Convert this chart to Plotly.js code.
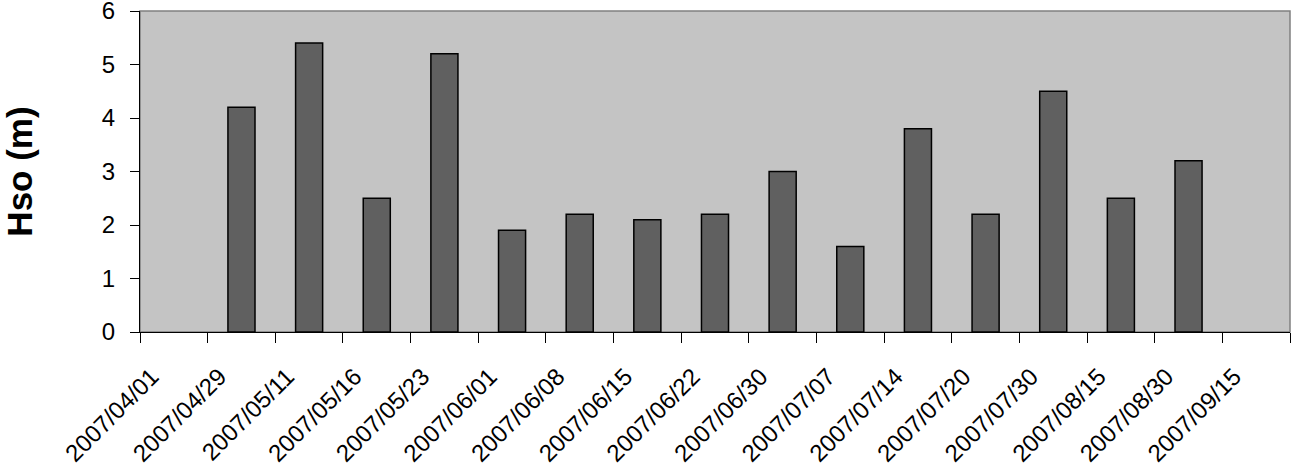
<!DOCTYPE html>
<html>
<head>
<meta charset="utf-8">
<script src="https://cdn.plot.ly/plotly-3.0.1.min.js"></script>
<style>
  html, body { margin: 0; padding: 0; background: #fff; }
  #chart { width: 1294px; height: 469px; }
</style>
</head>
<body>
<div id="chart"></div>
<script>
var dates = ['2007/04/01', '2007/04/29', '2007/05/11', '2007/05/16', '2007/05/23',
    '2007/06/01', '2007/06/08', '2007/06/15', '2007/06/22', '2007/06/30',
    '2007/07/07', '2007/07/14', '2007/07/20', '2007/07/30', '2007/08/15',
    '2007/08/30', '2007/09/15'];
var hso = [null, 4.2, 5.4, 2.5, 5.2, 1.9, 2.2, 2.1, 2.2, 3.0,
    1.6, 3.8, 2.2, 4.5, 2.5, 3.2, null];
var yTicks = [0, 1, 2, 3, 4, 5, 6];

var trace1 = {
    x: dates,
    y: hso,
    type: 'bar',
    width: 0.4,
    marker: {
        color: '#606060',
        line: { color: '#000000', width: 1.5 }
    },
    hoverinfo: 'x+y'
};

var layout = {
    width: 1294,
    height: 469,
    margin: { l: 140, r: 4, t: 11, b: 137 },
    paper_bgcolor: '#ffffff',
    plot_bgcolor: '#c4c4c4',
    font: { family: 'Liberation Sans, Arial, sans-serif', color: '#000000' },
    showlegend: false,
    xaxis: {
        type: 'category',
        range: [-0.5, 16.5],
        tickson: 'boundaries',
        ticks: 'outside',
        ticklen: 10,
        tickwidth: 1,
        tickcolor: '#000000',
        tickangle: -45,
        tickfont: { size: 24 },
        ticklabelstandoff: 20,
        ticklabelshift: -22,
        showline: true,
        linecolor: '#000000',
        linewidth: 1,
        showgrid: false,
        zeroline: false,
        automargin: false
    },
    yaxis: {
        range: [0, 6],
        tickvals: yTicks,
        ticks: 'outside',
        ticklen: 9,
        tickwidth: 1,
        tickcolor: '#000000',
        tickfont: { size: 24 },
        ticklabeloverflow: 'allow',
        ticklabelstandoff: 10,
        showline: true,
        linecolor: '#000000',
        linewidth: 1,
        showgrid: false,
        zeroline: false,
        automargin: false,
        title: {
            text: '<b>Hso (m)</b>',
            font: { size: 35 },
            standoff: 66
        }
    },
    shapes: [{
        type: 'rect', xref: 'paper', yref: 'paper',
        x0: 0, x1: 1, y0: 0, y1: 1,
        line: { color: '#808080', width: 1.5 },
        layer: 'below'
    }]
};

Plotly.newPlot('chart', [trace1], layout, { displayModeBar: false, staticPlot: true });
</script>
</body>
</html>
